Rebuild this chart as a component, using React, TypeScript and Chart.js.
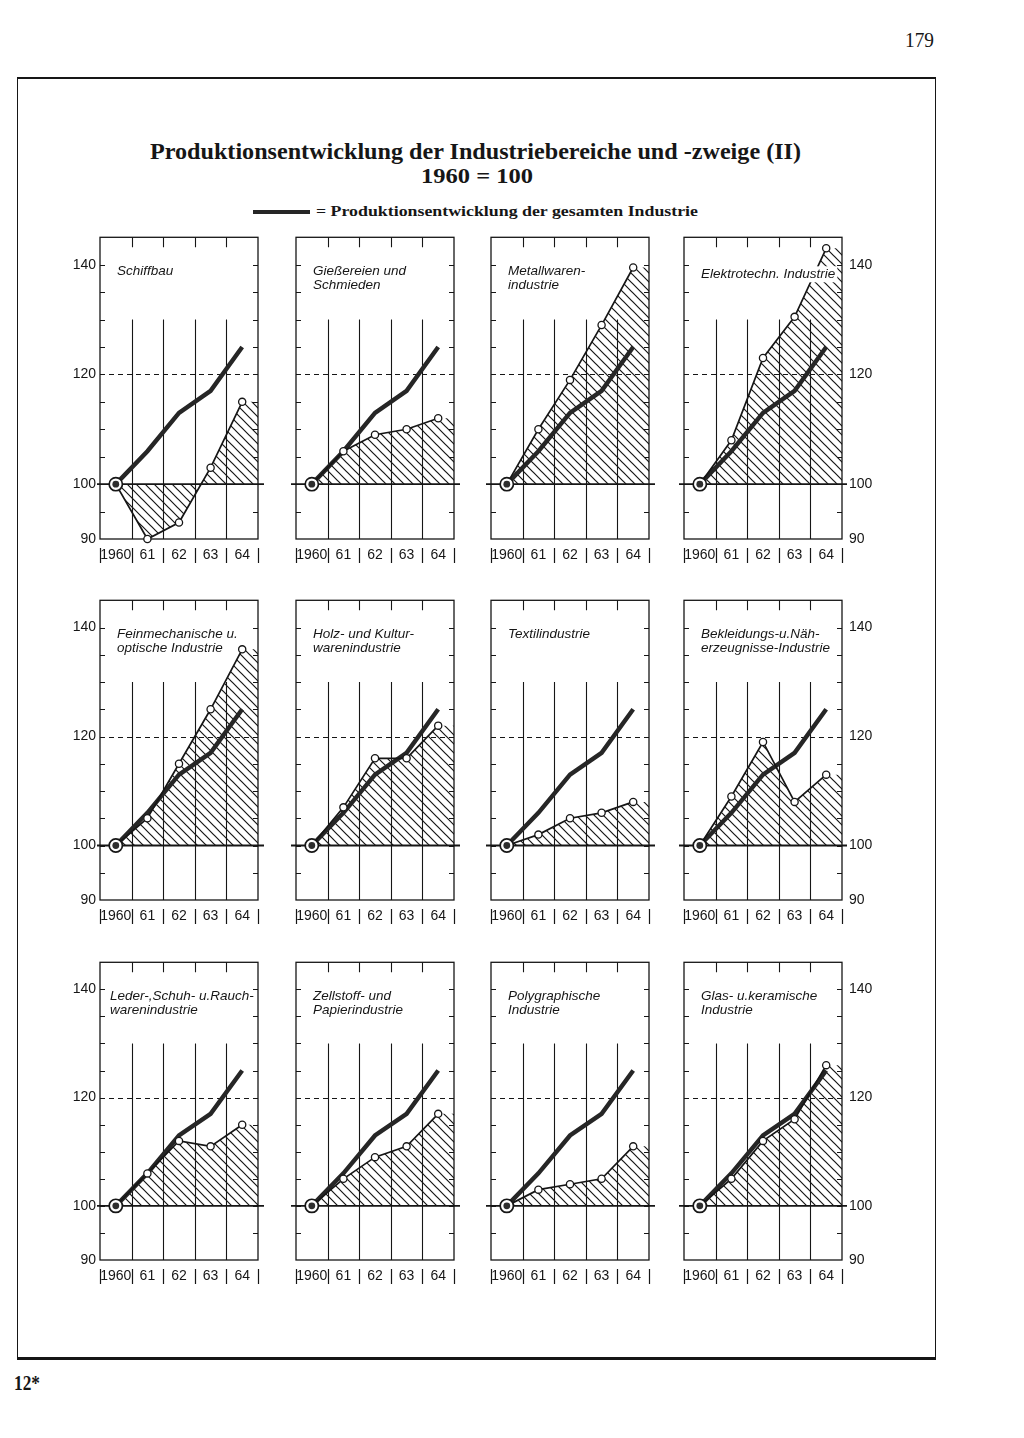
import React, { useEffect, useLayoutEffect, useRef } from 'react';
import { Chart, registerables } from 'chart.js';

Chart.register(...registerables);

// ---------------- data ----------------
const YEARS = ['1960', '61', '62', '63', '64'];
const Y_TICKS = [90, 100, 120, 140];
const GESAMTE_INDUSTRIE = [100, 106, 113, 117, 125];
const SCHIFFBAU = [100, 90, 93, 103, 115];
const GIESSEREIEN_SCHMIEDEN = [100, 106, 109, 110, 112];
const METALLWAREN = [100, 110, 119, 129, 139.5];
const ELEKTROTECHNIK = [100, 108, 123, 130.5, 143];
const FEINMECHANIK_OPTIK = [100, 105, 115, 125, 136];
const HOLZ_KULTURWAREN = [100, 107, 116, 116, 122];
const TEXTIL = [100, 102, 105, 106, 108];
const BEKLEIDUNG = [100, 109, 119, 108, 113];
const LEDER_SCHUH_RAUCH = [100, 106, 112, 111, 115];
const ZELLSTOFF_PAPIER = [100, 105, 109, 111, 117];
const POLYGRAPHIE = [100, 103, 104, 105, 111];
const GLAS_KERAMIK = [100, 105, 112, 116, 126];

// ---------------- layout / style ----------------
const INK = '#161616';
const THICK = '#262626';
const Y_MIN = 90;
const Y_MAX = 145;
const BASE = 100;
const REF_DASH = 120;
const GRID_FROM = 130;
const MINOR_STEP = 5;
const PAD_L = 30;
const PAD_R = 30;
const PAD_T = 8;
const PAD_B = 30;
const BOX_W = 158;
const COL_LEFT = [100, 296, 491, 684];
const ROW_TOP = [237, 600, 962];
const ROW_H = [302, 300, 298];

type PanelDef = {
  lines: string[];
  values: number[];
  labelDx?: number;
  labelDy?: number;
  mask?: boolean;
};

const PANELS: PanelDef[] = [
  { lines: ['Schiffbau'], values: SCHIFFBAU },
  { lines: ['Gießereien und', 'Schmieden'], values: GIESSEREIEN_SCHMIEDEN },
  { lines: ['Metallwaren-', 'industrie'], values: METALLWAREN },
  { lines: ['Elektrotechn. Industrie'], values: ELEKTROTECHNIK, labelDy: 37, mask: true },
  { lines: ['Feinmechanische u.', 'optische Industrie'], values: FEINMECHANIK_OPTIK },
  { lines: ['Holz- und Kultur-', 'warenindustrie'], values: HOLZ_KULTURWAREN },
  { lines: ['Textilindustrie'], values: TEXTIL },
  { lines: ['Bekleidungs-u.Näh-', 'erzeugnisse-Industrie'], values: BEKLEIDUNG },
  { lines: ['Leder-,Schuh- u.Rauch-', 'warenindustrie'], values: LEDER_SCHUH_RAUCH, labelDx: 10 },
  { lines: ['Zellstoff- und', 'Papierindustrie'], values: ZELLSTOFF_PAPIER },
  { lines: ['Polygraphische', 'Industrie'], values: POLYGRAPHIE },
  { lines: ['Glas- u.keramische', 'Industrie'], values: GLAS_KERAMIK },
];

const SANS = '"Liberation Sans", Arial, sans-serif';
const SERIF = '"Liberation Serif", "Times New Roman", serif';

function makeHatch(ctx: CanvasRenderingContext2D) {
  const s = 9;
  const c = document.createElement('canvas');
  c.width = s;
  c.height = s;
  const g = c.getContext('2d')!;
  g.strokeStyle = INK;
  g.lineWidth = 1.2;
  g.beginPath();
  g.moveTo(-1, -1);
  g.lineTo(s + 1, s + 1);
  g.moveTo(-1, s - 1);
  g.lineTo(1, s + 1);
  g.moveTo(s - 1, -1);
  g.lineTo(s + 1, 1);
  g.stroke();
  return ctx.createPattern(c, 'repeat');
}

const panelDeco = {
  id: 'panelDeco',
  beforeDatasetsDraw(chart: any, _args: any, o: any) {
    const { ctx, chartArea: a, scales } = chart;
    const x = scales.x;
    const y = scales.y;
    const L = a.left;
    const R = a.right;
    const T = a.top;
    const B = a.bottom;
    const px = (v: number) => Math.round(v) + 0.5;
    const n = YEARS.length;
    ctx.save();
    ctx.strokeStyle = INK;
    ctx.lineWidth = 1.1;
    ctx.beginPath();
    for (let i = 0; i < n - 1; i++) {
      const gx = px(x.getPixelForValue(i + 0.5));
      ctx.moveTo(gx, T);
      ctx.lineTo(gx, T + 10);
      ctx.moveTo(gx, y.getPixelForValue(GRID_FROM));
      ctx.lineTo(gx, B);
    }
    for (let v = Y_MIN + MINOR_STEP; v < Y_MAX; v += MINOR_STEP) {
      const gy = px(y.getPixelForValue(v));
      ctx.moveTo(L, gy);
      ctx.lineTo(L + 5, gy);
      ctx.moveTo(R - 5, gy);
      ctx.lineTo(R, gy);
    }
    ctx.stroke();
    ctx.lineWidth = 1;
    ctx.setLineDash([5, 4]);
    ctx.beginPath();
    const dyy = px(y.getPixelForValue(REF_DASH));
    ctx.moveTo(L, dyy);
    ctx.lineTo(R, dyy);
    ctx.stroke();
    ctx.setLineDash([]);
    ctx.lineWidth = 1.8;
    ctx.beginPath();
    const by = y.getPixelForValue(BASE);
    ctx.moveTo(L - o.baseOverL, by);
    ctx.lineTo(R + o.baseOverR, by);
    ctx.stroke();
    ctx.lineWidth = 1.3;
    ctx.strokeRect(L, T, R - L, B - T);
    ctx.restore();
  },
  afterDatasetsDraw(chart: any, _args: any, o: any) {
    const { ctx, chartArea: a } = chart;
    ctx.save();
    ctx.font = 'italic 13.5px ' + SANS;
    ctx.textAlign = 'left';
    ctx.textBaseline = 'middle';
    const lx = a.left + o.labelDx;
    o.lines.forEach((t: string, i: number) => {
      const ly = a.top + o.labelDy + i * 14;
      if (o.mask) {
        const w = ctx.measureText(t).width;
        ctx.fillStyle = '#ffffff';
        ctx.fillRect(lx - 2, ly - 8, w + 4, 16);
      }
      ctx.fillStyle = INK;
      ctx.fillText(t, lx, ly);
    });
    ctx.restore();
  },
  afterDraw(chart: any, _args: any, o: any) {
    const { ctx, chartArea: a, scales } = chart;
    const x = scales.x;
    const y = scales.y;
    ctx.save();
    ctx.fillStyle = INK;
    ctx.strokeStyle = INK;
    ctx.lineWidth = 1.2;
    ctx.font = '14px ' + SANS;
    ctx.textAlign = 'center';
    ctx.textBaseline = 'middle';
    YEARS.forEach((t, i) => ctx.fillText(t, x.getPixelForValue(i), a.bottom + 16));
    ctx.beginPath();
    for (let i = 0; i <= YEARS.length; i++) {
      const sx = Math.round(x.getPixelForValue(i - 0.5)) + 0.5;
      ctx.moveTo(sx, a.bottom + 9);
      ctx.lineTo(sx, a.bottom + 24);
    }
    ctx.stroke();
    if (o.ySide !== 'none') {
      ctx.textAlign = o.ySide === 'left' ? 'right' : 'left';
      const tx = o.ySide === 'left' ? a.left - 4 : a.right + 7;
      Y_TICKS.forEach((v) => ctx.fillText(String(v), tx, y.getPixelForValue(v)));
    }
    ctx.restore();
  },
};

function Panel({ def, col, row }: { def: PanelDef; col: number; row: number }) {
  const ref = useRef<HTMLCanvasElement>(null);
  const boxH = ROW_H[row];
  const W = PAD_L + BOX_W + PAD_R;
  const H = PAD_T + boxH + PAD_B;
  useEffect(() => {
    const canvas = ref.current;
    if (!canvas) return;
    const ctx = canvas.getContext('2d')!;
    const n = YEARS.length;
    const pts = def.values.map((v, i) => ({ x: i, y: v }));
    const fillPts = [...pts, { x: n - 0.5, y: def.values[n - 1] }];
    const totalPts = GESAMTE_INDUSTRIE.map((v, i) => ({ x: i, y: v }));
    const chart = new Chart(canvas, {
      type: 'line',
      data: {
        datasets: [
          {
            label: '1960',
            data: [{ x: 0, y: GESAMTE_INDUSTRIE[0] }],
            showLine: false,
            pointRadius: 3.4,
            pointBackgroundColor: '#2e2e2e',
            pointBorderWidth: 0,
            clip: false,
          } as any,
          {
            label: def.lines.join(' '),
            data: pts,
            borderColor: INK,
            borderWidth: 1.7,
            pointRadius: (c: any) => (c.dataIndex === 0 ? 6.6 : 3.6),
            pointBorderWidth: (c: any) => (c.dataIndex === 0 ? 1.7 : 1.3),
            pointBackgroundColor: '#ffffff',
            pointBorderColor: INK,
            fill: false,
            clip: false,
          },
          {
            label: 'Gesamte Industrie',
            data: totalPts,
            borderColor: THICK,
            borderWidth: 4.4,
            pointRadius: 0,
            fill: false,
          },
          {
            label: 'Schraffur',
            data: fillPts,
            borderColor: 'rgba(0,0,0,0)',
            borderWidth: 1,
            pointRadius: 0,
            backgroundColor: makeHatch(ctx) as any,
            fill: { value: BASE },
          },
        ],
      },
      options: {
        responsive: false,
        animation: false,
        events: [],
        layout: { padding: { left: PAD_L, right: PAD_R, top: PAD_T, bottom: PAD_B } },
        elements: { line: { tension: 0 } },
        scales: {
          x: { type: 'linear', min: -0.5, max: n - 0.5, display: false },
          y: { type: 'linear', min: Y_MIN, max: Y_MAX, display: false },
        },
        plugins: {
          legend: { display: false },
          tooltip: { enabled: false },
          panelDeco: {
            lines: def.lines,
            labelDx: def.labelDx ?? 17,
            labelDy: def.labelDy ?? 33.5,
            mask: !!def.mask,
            ySide: col === 0 ? 'left' : col === 3 ? 'right' : 'none',
            baseOverL: col === 0 ? 3 : 5,
            baseOverR: col === 3 ? 5 : 6,
          },
        } as any,
      },
      plugins: [panelDeco as any],
    });
    return () => chart.destroy();
  }, [def, col, row]);
  return (
    <canvas
      ref={ref}
      width={W}
      height={H}
      style={{
        position: 'absolute',
        left: COL_LEFT[col] - PAD_L,
        top: ROW_TOP[row] - PAD_T,
        width: W,
        height: H,
      }}
    />
  );
}

function FitText({
  x,
  y,
  width,
  size,
  bold,
  family,
  children,
}: {
  x: number;
  y: number;
  width: number;
  size: number;
  bold?: boolean;
  family: string;
  children: React.ReactNode;
}) {
  const ref = useRef<HTMLSpanElement>(null);
  useLayoutEffect(() => {
    const el = ref.current;
    if (!el) return;
    el.style.transform = 'none';
    const w = el.getBoundingClientRect().width;
    if (w > 0) el.style.transform = `scaleX(${width / w})`;
  }, [width]);
  return (
    <span
      ref={ref}
      style={{
        position: 'absolute',
        left: x,
        top: y,
        display: 'inline-block',
        whiteSpace: 'nowrap',
        fontFamily: family,
        fontSize: size,
        fontWeight: bold ? 700 : 400,
        lineHeight: 1,
        color: INK,
        transformOrigin: '0 0',
      }}
    >
      {children}
    </span>
  );
}

export default function App() {
  return (
    <div
      style={{
        position: 'absolute',
        left: 0,
        top: 0,
        width: 1024,
        height: 1438,
        background: '#ffffff',
        overflow: 'hidden',
      }}
    >
      <FitText x={905} y={30} width={29} size={20} family={SERIF}>
        179
      </FitText>
      <div
        style={{
          position: 'absolute',
          left: 17,
          top: 77,
          width: 919,
          height: 1283,
          boxSizing: 'border-box',
          borderTop: `2px solid ${INK}`,
          borderBottom: `3px solid ${INK}`,
          borderLeft: `1.5px solid ${INK}`,
          borderRight: `1.5px solid ${INK}`,
        }}
      />
      <FitText x={150} y={139} width={651} size={24} bold family={SERIF}>
        Produktionsentwicklung der Industriebereiche und -zweige (II)
      </FitText>
      <FitText x={421} y={166} width={112} size={20} bold family={SERIF}>
        1960 = 100
      </FitText>
      <div
        style={{
          position: 'absolute',
          left: 253,
          top: 210,
          width: 57,
          height: 4,
          background: THICK,
        }}
      />
      <FitText x={316} y={204} width={382} size={15} bold family={SERIF}>
        = Produktionsentwicklung der gesamten Industrie
      </FitText>
      {PANELS.map((p, i) => (
        <Panel key={i} def={p} col={i % 4} row={Math.floor(i / 4)} />
      ))}
      <FitText x={14} y={1373} width={26} size={20} bold family={SERIF}>
        12*
      </FitText>
    </div>
  );
}
